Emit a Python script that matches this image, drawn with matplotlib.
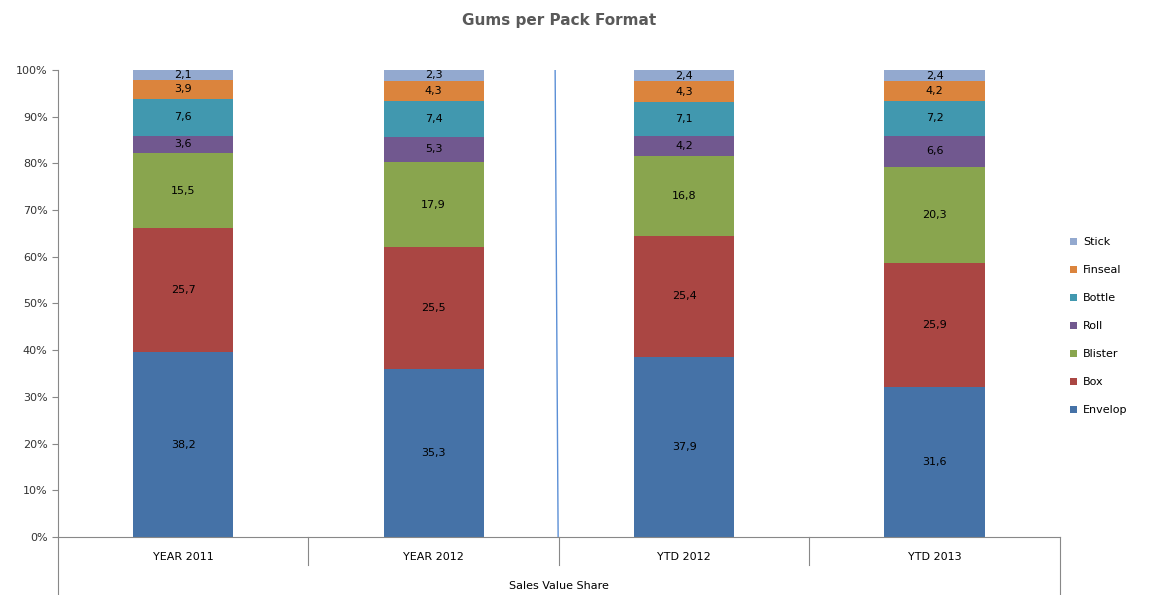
import numpy as np
import matplotlib.pyplot as plt
from matplotlib.ticker import PercentFormatter

categories = ['YEAR 2011', 'YEAR 2012', 'YTD 2012', 'YTD 2013']
series = ['Envelop', 'Box', 'Blister', 'Roll', 'Bottle', 'Finseal', 'Stick']
envelop = [38.2, 35.3, 37.9, 31.6]
box = [25.7, 25.5, 25.4, 25.9]
blister = [15.5, 17.9, 16.8, 20.3]
roll = [3.6, 5.3, 4.2, 6.6]
bottle = [7.6, 7.4, 7.1, 7.2]
finseal = [3.9, 4.3, 4.3, 4.2]
stick = [2.1, 2.3, 2.4, 2.4]
colors = ['#4572A7', '#AA4643', '#89A54E', '#71588F', '#4198AF', '#DB843D', '#93A9CF']

values = np.array([envelop, box, blister, roll, bottle, finseal, stick])
shares = values / values.sum(axis=0) * 100

fig = plt.figure(figsize=(11.54, 5.95), dpi=100)
ax = fig.add_axes([0.0503, 0.0975, 0.868, 0.785])

x = np.arange(len(categories))
bottom = np.zeros(len(categories))
handles = []
for name, col, raw, sh in zip(series, colors, values, shares):
    b = ax.bar(x, sh, 0.4, bottom=bottom, color=col, label=name)
    handles.append(b)
    for xi, v, bt, h in zip(x, raw, bottom, sh):
        ax.text(xi, bt + h / 2, f'{v:.1f}'.replace('.', ','), ha='center', va='center',
                fontsize=8, color='black')
    bottom += sh

ax.set_xlim(-0.5, 3.5)
ax.set_ylim(0, 100)
ax.yaxis.set_major_locator(plt.MultipleLocator(10))
ax.yaxis.set_major_formatter(PercentFormatter(decimals=0))
ax.tick_params(axis='y', labelsize=8, length=4, width=0.8, colors='#888888')
for lab in ax.get_yticklabels():
    lab.set_color('#333333')
ax.set_xticks([])
for s in ['top', 'right']:
    ax.spines[s].set_visible(False)
ax.spines['left'].set_color('#888888')
ax.spines['bottom'].set_color('#888888')

# category axis boxes
trans = ax.get_xaxis_transform()
for xb in [0.5, 1.5, 2.5]:
    ax.plot([xb, xb], [0, -0.06], transform=trans, color='#888888', lw=0.8, clip_on=False)
for xb in [-0.5, 3.5]:
    ax.plot([xb, xb], [0, -0.125], transform=trans, color='#888888', lw=0.8, clip_on=False)
for xi, c in zip(x, categories):
    ax.text(xi, -0.043, c, transform=trans, ha='center', va='center', fontsize=8, color='black')
ax.text(1.5, -0.104, 'Sales Value Share', transform=trans, ha='center', va='center',
        fontsize=8, color='black')

# separator line between periods
ax.plot([1.485, 1.497], [100, 0], color='#5B8FD6', lw=1.0)

ax.set_title('Gums per Pack Format', fontsize=11, fontweight='bold', color='#595959',
             family=['Liberation Sans Narrow', 'DejaVu Sans'], y=1.078)

leg = ax.legend(handles[::-1], series[::-1], loc='center left', bbox_to_anchor=(1.0, 0.451),
                frameon=False, fontsize=8, handlelength=0.7, handleheight=0.7,
                labelspacing=1.62, handletextpad=0.5, borderaxespad=0.5)

fig.savefig('out.png', dpi=100)
